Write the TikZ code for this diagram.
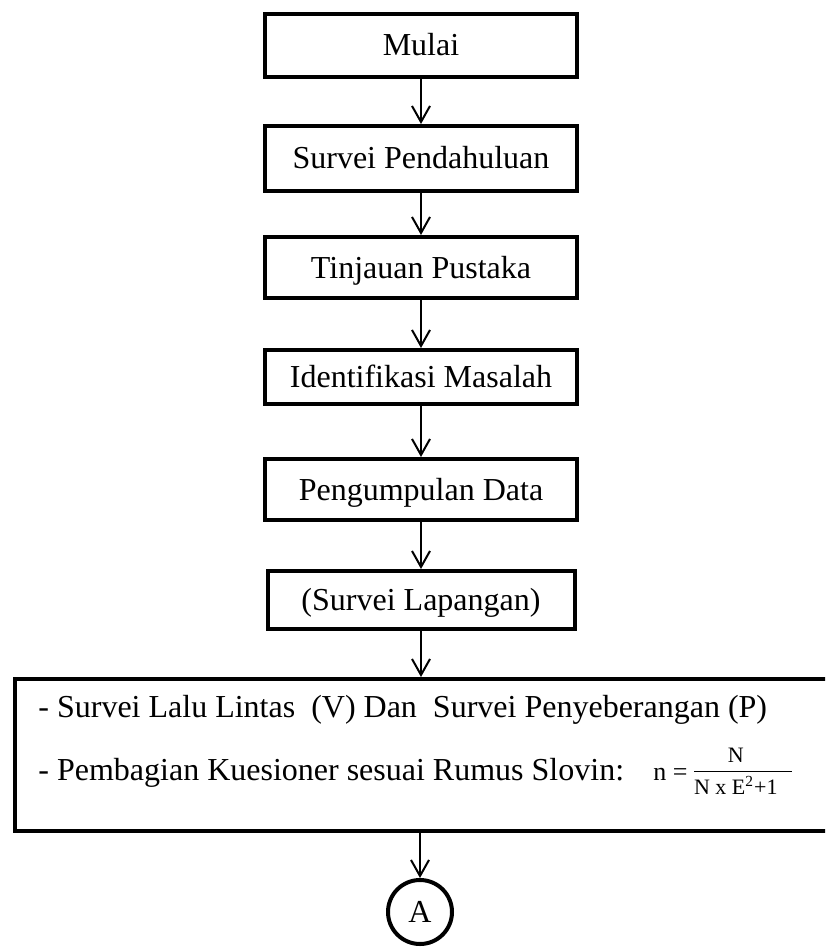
\documentclass[tikz,border=0pt]{standalone}
\usepackage{fontspec}
\setmainfont{Liberation Serif}
\usetikzlibrary{arrows.meta}

\tikzset{
  kotak/.style={draw, line width=2pt, minimum width=156pt, text height=10.5pt, text depth=0pt, font=\fontsize{16}{19}\selectfont},
  panah/.style={-{Straight Barb[length=8pt,width=9pt]}, line width=1pt},
  teks/.style={anchor=base west, inner sep=0pt, font=\fontsize{16}{19}\selectfont}
}

\begin{document}
\begin{tikzpicture}[x=0.5pt,y=-0.5pt]
    \useasboundingbox (0,0) rectangle (825,947);
    \clip (0,0) rectangle (825,947);

    \node[kotak, minimum height=31.5pt] (mulai) at (421,45.5) {Mulai};
    \node[kotak, minimum height=32.5pt] (pendahuluan) at (421,158.5) {Survei Pendahuluan};
    \node[kotak, minimum height=30.5pt] (pustaka) at (421,267.5) {Tinjauan Pustaka};
    \node[kotak, minimum height=27pt] (masalah) at (421,377) {Identifikasi Masalah};
    \node[kotak, minimum height=30.5pt] (data) at (421,489.5) {Pengumpulan Data};
    \node[kotak, minimum width=153.5pt, minimum height=29pt] (lapangan) at (421,600) {(Survei Lapangan)};

    % kotak besar, sisi kanan keluar gambar
    \node[draw, line width=2pt, minimum width=426.5pt, minimum height=76pt] (survei) at (441.5,755) {};
    \node[teks] (baris1) at (38,717) {- Survei Lalu Lintas\ \ (V) Dan\ \ Survei Penyeberangan (P)};
    \node[teks] (baris2) at (38,780) {- Pembagian Kuesioner sesuai Rumus Slovin:};
    \node[anchor=base west, inner sep=0pt, font=\fontsize{13}{15}\selectfont] (rumus) at (653,780)
      {n = $\vcenter{\hbox{\fontsize{11}{12}\selectfont\begin{tabular}{@{}c@{\hspace{7pt}}}\rule[-4pt]{0pt}{0pt}N\\\hline\rule{0pt}{11.5pt}N x E\textsuperscript{2}+1\end{tabular}}}$};

    \node[draw, circle, line width=2pt, minimum size=32pt, inner sep=0pt, font=\fontsize{16}{19}\selectfont] (A) at (420,912) {A};

    \draw[panah] (mulai) -- (pendahuluan);
    \draw[panah] (pendahuluan) -- (pustaka);
    \draw[panah] (pustaka) -- (masalah);
    \draw[panah] (masalah) -- (data);
    \draw[panah] (data) -- (lapangan);
    \draw[panah] (lapangan.south) -- (lapangan.south |- survei.north);
    \draw[panah] (A.north |- survei.south) -- (A.north);

  \end{tikzpicture}
\end{document}
